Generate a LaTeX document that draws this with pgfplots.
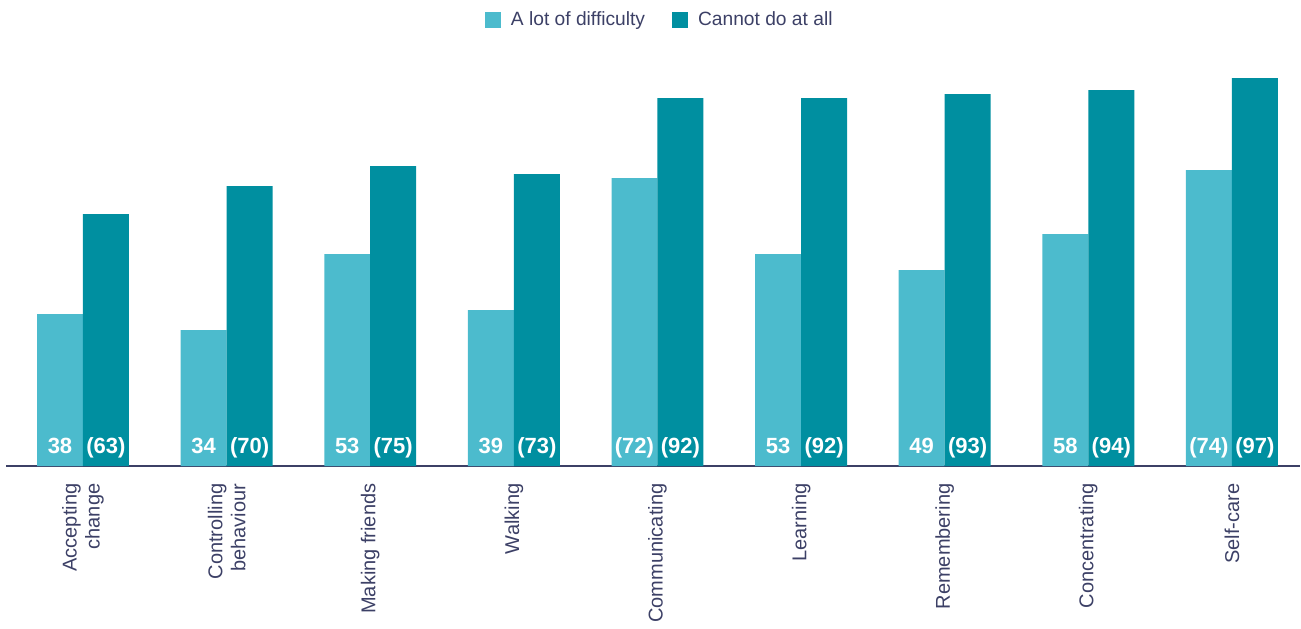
\documentclass[border=0pt]{standalone}
\usepackage{fontspec}
\setmainfont{Liberation Sans}
\usepackage{pgfplots}
\usepackage{pgfplotstable}
\pgfplotsset{compat=1.18}
\definecolor{lightc}{HTML}{4CBBCD}
\definecolor{darkc}{HTML}{008FA0}
\definecolor{navy}{HTML}{3C4066}
\pgfplotstableread{
x v1 v2 l1 l2
0 38 63 38 (63)
1 34 70 34 (70)
2 53 75 53 (75)
3 39 73 39 (73)
4 72 92 (72) (92)
5 53 92 53 (92)
6 49 93 49 (93)
7 58 94 58 (94)
8 74 97 (74) (97)
}\data
\begin{document}
\begin{tikzpicture}
\begin{axis}[
  name=ax,
  scale only axis,
  width=647pt, height=233pt,
  xmin=-0.536, xmax=8.474,
  ymin=0, ymax=116.5,
  axis x line=bottom, axis y line=none,
  x axis line style={-, draw=navy, line width=0.6pt},
  xtick=data,
  xtick style={draw=none},
  xticklabels={{Accepting\\change},{Controlling\\behaviour},{Making friends},{Walking},{Communicating},{Learning},{Remembering},{Concentrating},{Self-care}},
  xticklabel style={rotate=90, anchor=east, align=right, inner sep=0pt, xshift=-6.5pt, font=\fontsize{10}{11.5}\selectfont, text=navy},
  legend columns=2,
  legend style={draw=none, fill=none, at={(axis description cs:0.506,0.957)}, anchor=center,
    font=\fontsize{9.6}{11}\selectfont, text=navy,
    /tikz/every odd column/.append style={column sep=3pt},
    /tikz/every even column/.append style={column sep=11.5pt}},
  legend image code/.code={\fill[#1] (0pt,-4pt) rectangle (8pt,4pt);},
]
\addplot[ybar, bar width=0.32, bar shift=-0.16, fill=lightc, draw=none] table[x=x, y=v1] {\data};
\addlegendentry{A lot of difficulty}
\addplot[ybar, bar width=0.32, bar shift=0.16, fill=darkc, draw=none] table[x=x, y=v2] {\data};
\addlegendentry{Cannot do at all}
\addplot[draw=none, mark=none, forget plot, nodes near coords, point meta=explicit symbolic,
  every node near coord/.style={anchor=base, yshift=6.5pt, text=white, font=\fontsize{11}{13}\selectfont\bfseries}]
  table[x expr=\thisrow{x}-0.16, y expr=0, meta=l1] {\data};
\addplot[draw=none, mark=none, forget plot, nodes near coords, point meta=explicit symbolic,
  every node near coord/.style={anchor=base, yshift=6.5pt, text=white, font=\fontsize{11}{13}\selectfont\bfseries}]
  table[x expr=\thisrow{x}+0.16, y expr=0, meta=l2] {\data};
\end{axis}
\pgfresetboundingbox
\useasboundingbox (-3pt,-81pt) rectangle (647.5pt,233pt);
\end{tikzpicture}
\end{document}
